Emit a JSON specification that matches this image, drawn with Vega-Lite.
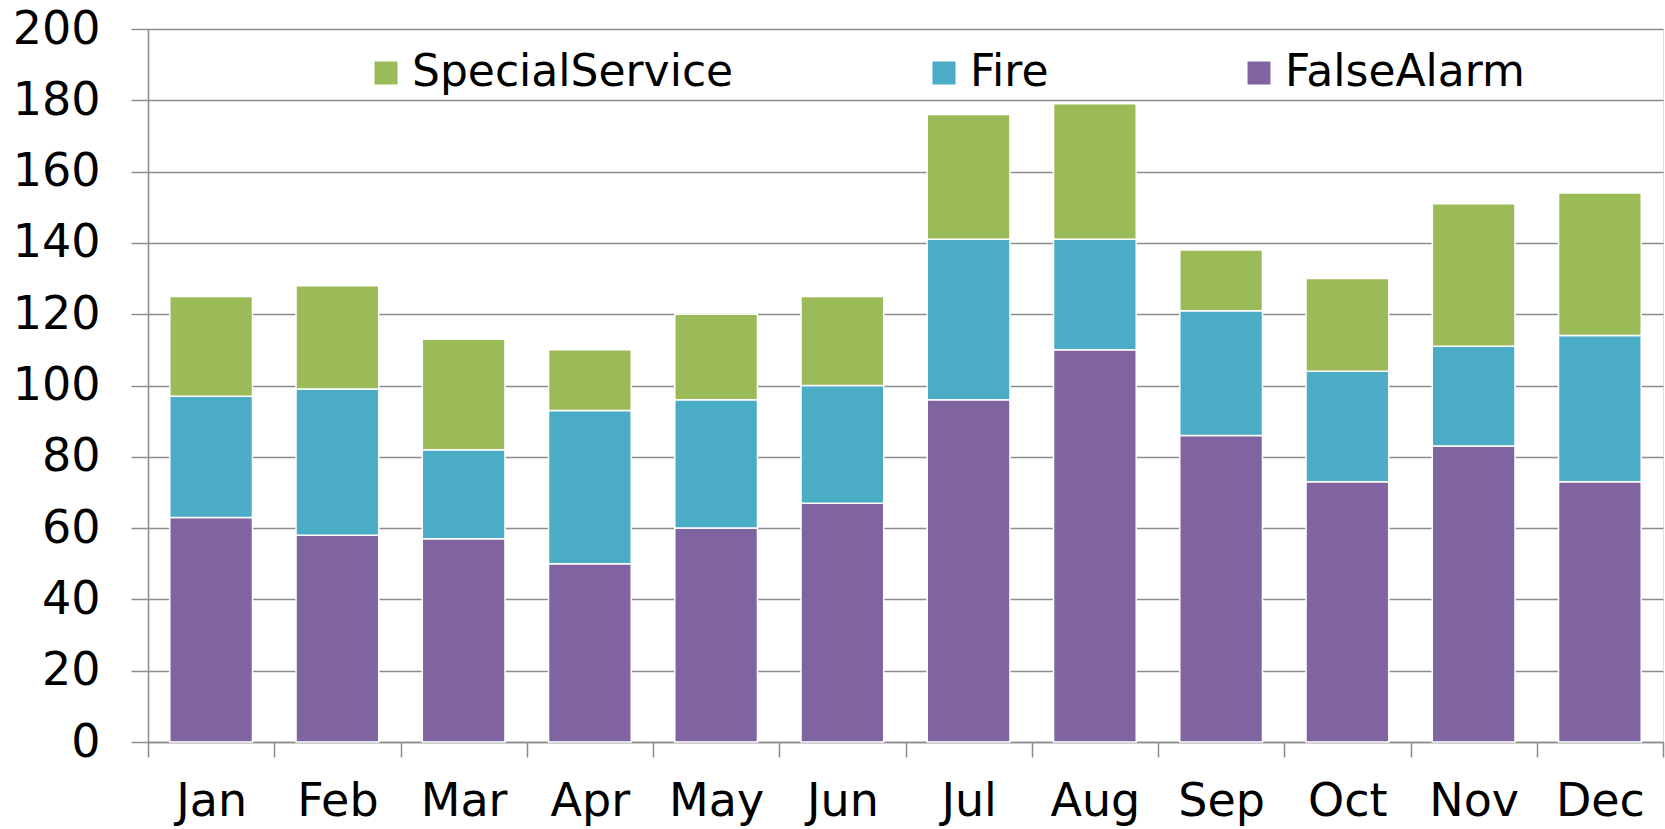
{
  "$schema": "https://vega.github.io/schema/vega-lite/v6.json",
  "width": 1515,
  "height": 713,
  "autosize": {"type": "none"},
  "padding": {"left": 148, "top": 29, "right": 2, "bottom": 87},
  "background": "white",
  "data": {
    "values": [
      {"month": "Jan", "type": "FalseAlarm", "value": 63},
      {"month": "Jan", "type": "Fire", "value": 34},
      {"month": "Jan", "type": "SpecialService", "value": 28},
      {"month": "Feb", "type": "FalseAlarm", "value": 58},
      {"month": "Feb", "type": "Fire", "value": 41},
      {"month": "Feb", "type": "SpecialService", "value": 29},
      {"month": "Mar", "type": "FalseAlarm", "value": 57},
      {"month": "Mar", "type": "Fire", "value": 25},
      {"month": "Mar", "type": "SpecialService", "value": 31},
      {"month": "Apr", "type": "FalseAlarm", "value": 50},
      {"month": "Apr", "type": "Fire", "value": 43},
      {"month": "Apr", "type": "SpecialService", "value": 17},
      {"month": "May", "type": "FalseAlarm", "value": 60},
      {"month": "May", "type": "Fire", "value": 36},
      {"month": "May", "type": "SpecialService", "value": 24},
      {"month": "Jun", "type": "FalseAlarm", "value": 67},
      {"month": "Jun", "type": "Fire", "value": 33},
      {"month": "Jun", "type": "SpecialService", "value": 25},
      {"month": "Jul", "type": "FalseAlarm", "value": 96},
      {"month": "Jul", "type": "Fire", "value": 45},
      {"month": "Jul", "type": "SpecialService", "value": 35},
      {"month": "Aug", "type": "FalseAlarm", "value": 110},
      {"month": "Aug", "type": "Fire", "value": 31},
      {"month": "Aug", "type": "SpecialService", "value": 38},
      {"month": "Sep", "type": "FalseAlarm", "value": 86},
      {"month": "Sep", "type": "Fire", "value": 35},
      {"month": "Sep", "type": "SpecialService", "value": 17},
      {"month": "Oct", "type": "FalseAlarm", "value": 73},
      {"month": "Oct", "type": "Fire", "value": 31},
      {"month": "Oct", "type": "SpecialService", "value": 26},
      {"month": "Nov", "type": "FalseAlarm", "value": 83},
      {"month": "Nov", "type": "Fire", "value": 28},
      {"month": "Nov", "type": "SpecialService", "value": 40},
      {"month": "Dec", "type": "FalseAlarm", "value": 73},
      {"month": "Dec", "type": "Fire", "value": 41},
      {"month": "Dec", "type": "SpecialService", "value": 40}
    ]
  },
  "mark": {"type": "bar", "stroke": "white", "strokeWidth": 1.5, "width": {"band": 0.655}},
  "encoding": {
    "x": {
      "field": "month",
      "type": "nominal",
      "sort": ["Jan","Feb","Mar","Apr","May","Jun","Jul","Aug","Sep","Oct","Nov","Dec"],
      "scale": {"paddingInner": 0, "paddingOuter": 0},
      "axis": {
        "title": null,
        "labelAngle": 0,
        "tickBand": "extent",
        "tickSize": 15,
        "tickColor": "#8c8c8c",
        "tickWidth": 1.5,
        "domainColor": "#8c8c8c",
        "domainWidth": 1.5,
        "grid": false,
        "labelFont": "DejaVu Sans",
        "labelFontSize": 46,
        "labelColor": "black",
        "labelPadding": 22
      }
    },
    "y": {
      "field": "value",
      "type": "quantitative",
      "stack": "zero",
      "scale": {"domain": [0, 200], "nice": false},
      "axis": {
        "title": null,
        "values": [0,20,40,60,80,100,120,140,160,180,200],
        "grid": true,
        "gridColor": "#8c8c8c",
        "gridWidth": 1.5,
        "tickSize": 17,
        "tickColor": "#8c8c8c",
        "tickWidth": 1.5,
        "domainColor": "#8c8c8c",
        "domainWidth": 1.5,
        "labelFont": "DejaVu Sans",
        "labelFontSize": 46,
        "labelColor": "black",
        "labelPadding": 31
      }
    },
    "color": {
      "field": "type",
      "type": "nominal",
      "scale": {
        "domain": ["SpecialService", "Fire", "FalseAlarm"],
        "range": ["#9BBB59", "#4BACC6", "#8064A2"]
      },
      "legend": {
        "title": null,
        "orient": "none",
        "direction": "horizontal",
        "legendX": 216,
        "legendY": 22,
        "symbolType": "square",
        "symbolSize": 529,
        "symbolStrokeWidth": 0,
        "labelFont": "DejaVu Sans",
        "labelFontSize": 44,
        "labelColor": "black",
        "labelOffset": 4,
        "labelLimit": 0,
        "columnPadding": 188
      }
    },
    "order": {"field": "type", "sort": "ascending"}
  }
}
